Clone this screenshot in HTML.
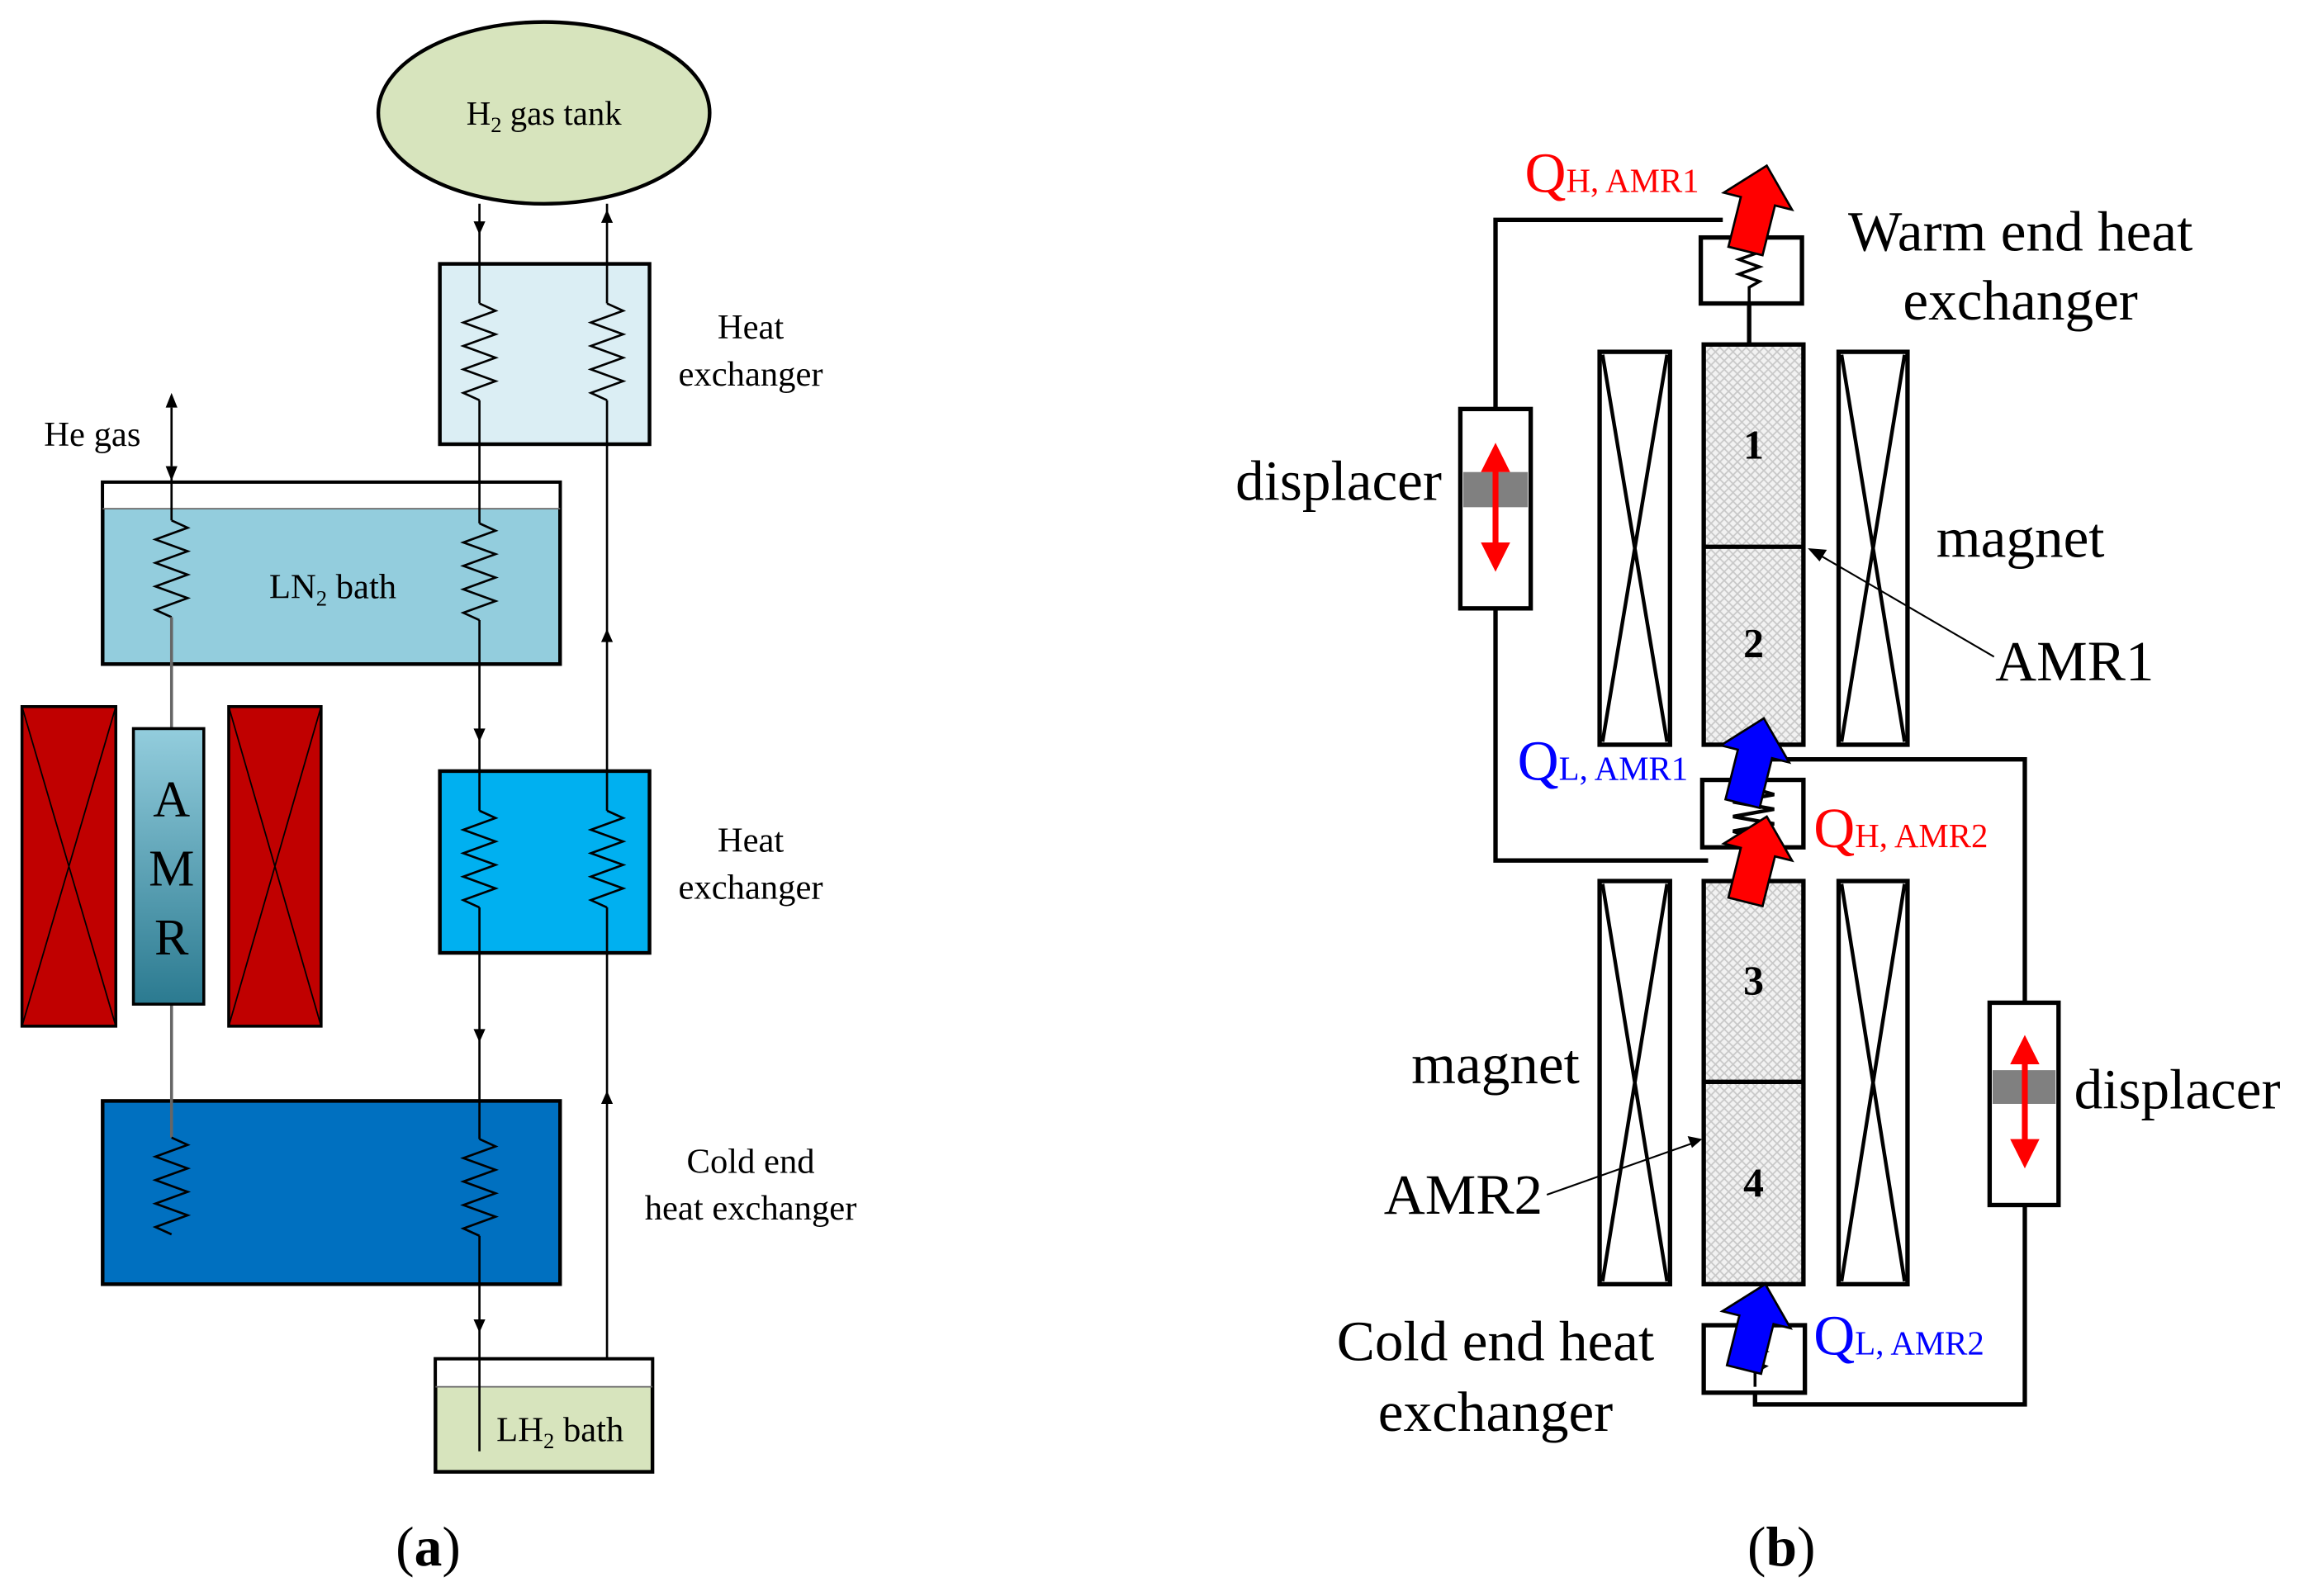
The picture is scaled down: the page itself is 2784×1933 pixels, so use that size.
<!DOCTYPE html>
<html><head><meta charset="utf-8"><style>
html,body{margin:0;padding:0;background:#fff;}
svg{display:block}
text{font-family:"Liberation Serif",serif;}
</style></head><body>
<svg width="2784" height="1933" viewBox="0 0 1568 1088.7" xmlns="http://www.w3.org/2000/svg">
<defs>
<pattern id="hatch" width="6" height="6" patternUnits="userSpaceOnUse">
<rect width="6" height="6" fill="#f2f2f2"/>
<path d="M0 0L6 6M6 0L0 6" stroke="#c8c8c8" stroke-width="1"/>
</pattern>
<linearGradient id="amr" x1="0" y1="0" x2="0" y2="1">
<stop offset="0" stop-color="#93cddd"/><stop offset="1" stop-color="#2b7a90"/>
</linearGradient>
<path id="zz" d="M0 0 l11 5 l-22 8 l22 8 l-22 8 l22 8 l-22 8 l22 8 l-22 8 l11 5" fill="none" stroke="#000" stroke-width="1.5"/>
<path id="fat" d="M0 0 L24 25 L12 25 L12 60 L-12 60 L-12 25 L-24 25 Z"/>
</defs>

<!-- ===== Panel (a) ===== -->
<ellipse cx="371" cy="77" rx="113" ry="62" fill="#d7e4bd" stroke="#000" stroke-width="2.5"/>
<text x="371" y="85" font-size="23" text-anchor="middle">H<tspan font-size="15" dy="5">2</tspan><tspan dy="-5"> gas tank</tspan></text>

<rect x="300" y="180" width="143" height="123" fill="#dbeef4" stroke="#000" stroke-width="2.5"/>
<rect x="70" y="329" width="312" height="124" fill="#93cddd" stroke="#000" stroke-width="2.5"/>
<rect x="71" y="330" width="310" height="17" fill="#fff"/>
<line x1="70" y1="347" x2="382" y2="347" stroke="#666" stroke-width="1"/>
<rect x="15" y="482" width="64" height="218" fill="#c00000" stroke="#000" stroke-width="2"/>
<path d="M15 482L79 700M79 482L15 700" stroke="#000" stroke-width="1"/>
<rect x="156" y="482" width="63" height="218" fill="#c00000" stroke="#000" stroke-width="2"/>
<path d="M156 482L219 700M219 482L156 700" stroke="#000" stroke-width="1"/>
<rect x="300" y="526" width="143" height="124" fill="#00b0f0" stroke="#000" stroke-width="2.5"/>
<rect x="70" y="751" width="312" height="125" fill="#0070c0" stroke="#000" stroke-width="2.5"/>
<rect x="297" y="927" width="148" height="77" fill="#d7e4bd" stroke="#000" stroke-width="2.5"/>
<rect x="298" y="928" width="146" height="18" fill="#fff"/>
<line x1="297" y1="946" x2="445" y2="946" stroke="#666" stroke-width="1"/>

<path d="M117 268 l-4 10 h8z M117 328 l-4 -10 h8z" fill="#000"/>
<line x1="117" y1="278" x2="117" y2="318" stroke="#000" stroke-width="1.5"/>
<line x1="117" y1="325" x2="117" y2="355" stroke="#000" stroke-width="1.5"/>
<use href="#zz" x="117" y="355"/>
<line x1="117" y1="421" x2="117" y2="497" stroke="#666" stroke-width="2"/>
<line x1="117" y1="685" x2="117" y2="776" stroke="#666" stroke-width="2"/>
<use href="#zz" x="117" y="776"/>

<rect x="91" y="497" width="48" height="188" fill="url(#amr)" stroke="#000" stroke-width="2"/>
<text x="117" y="557" font-size="35" text-anchor="middle">A</text>
<text x="117" y="604" font-size="35" text-anchor="middle">M</text>
<text x="117" y="651" font-size="35" text-anchor="middle">R</text>

<line x1="327" y1="139" x2="327" y2="207" stroke="#000" stroke-width="1.5"/>
<use href="#zz" x="327" y="207"/>
<line x1="327" y1="273" x2="327" y2="357" stroke="#000" stroke-width="1.5"/>
<use href="#zz" x="327" y="357"/>
<line x1="327" y1="423" x2="327" y2="553" stroke="#000" stroke-width="1.5"/>
<use href="#zz" x="327" y="553"/>
<line x1="327" y1="619" x2="327" y2="777" stroke="#000" stroke-width="1.5"/>
<use href="#zz" x="327" y="777"/>
<line x1="327" y1="843" x2="327" y2="990" stroke="#000" stroke-width="1.5"/>
<path d="M327 160 l-4 -9 h8z M327 506 l-4 -9 h8z M327 711 l-4 -9 h8z M327 909 l-4 -9 h8z" fill="#000"/>

<line x1="414" y1="139" x2="414" y2="207" stroke="#000" stroke-width="1.5"/>
<use href="#zz" x="414" y="207"/>
<line x1="414" y1="273" x2="414" y2="553" stroke="#000" stroke-width="1.5"/>
<use href="#zz" x="414" y="553"/>
<line x1="414" y1="619" x2="414" y2="927" stroke="#000" stroke-width="1.5"/>
<path d="M414 143 l-4 9 h8z M414 429 l-4 9 h8z M414 744 l-4 9 h8z" fill="#000"/>

<g font-size="24" text-anchor="middle">
<text x="63" y="304">He gas</text>
<text x="227" y="408">LN<tspan font-size="15" dy="5">2</tspan><tspan dy="-5"> bath</tspan></text>
<text x="382" y="983">LH<tspan font-size="15" dy="5">2</tspan><tspan dy="-5"> bath</tspan></text>
<text x="512" y="231">Heat</text>
<text x="512" y="263">exchanger</text>
<text x="512" y="581">Heat</text>
<text x="512" y="613">exchanger</text>
<text x="512" y="800">Cold end</text>
<text x="512" y="832">heat exchanger</text>
</g>
<text x="292" y="1068" font-size="38" text-anchor="middle">(<tspan font-weight="bold">a</tspan>)</text>
<text x="1215" y="1068" font-size="38" text-anchor="middle">(<tspan font-weight="bold">b</tspan>)</text>

<!-- ===== Panel (b) ===== -->
<g stroke="#000" stroke-width="3" fill="none">
<path d="M1175 150 H1020 V279"/>
<path d="M1020 415 V587 H1165"/>
<path d="M1200 518 H1381 V684"/>
<path d="M1381 822 V958 H1197 V945"/>
<line x1="1193" y1="207" x2="1193" y2="235"/>
</g>
<g stroke="#000" stroke-width="3" fill="#fff">
<rect x="1091" y="240" width="48" height="268"/>
<rect x="1254" y="240" width="47" height="268"/>
<rect x="1091" y="601" width="48" height="275"/>
<rect x="1254" y="601" width="47" height="275"/>
</g>
<g stroke="#000" stroke-width="2.5">
<path d="M1093 242L1137 506M1137 242L1093 506"/>
<path d="M1256 242L1299 506M1299 242L1256 506"/>
<path d="M1093 603L1137 874M1137 603L1093 874"/>
<path d="M1256 603L1299 874M1299 603L1256 874"/>
</g>
<rect x="1162" y="235" width="68" height="273" fill="url(#hatch)" stroke="#000" stroke-width="3"/>
<line x1="1162" y1="373" x2="1230" y2="373" stroke="#000" stroke-width="3"/>
<rect x="1162" y="601" width="68" height="275" fill="url(#hatch)" stroke="#000" stroke-width="3"/>
<line x1="1162" y1="738" x2="1230" y2="738" stroke="#000" stroke-width="3"/>
<g font-size="28" font-weight="bold" text-anchor="middle">
<text x="1196" y="313">1</text><text x="1196" y="448">2</text>
<text x="1196" y="678">3</text><text x="1196" y="816">4</text>
</g>
<g stroke="#000" stroke-width="3" fill="#fff">
<rect x="1160" y="162" width="69" height="45"/>
<rect x="1161" y="532" width="69" height="46"/>
<rect x="1162" y="904" width="69" height="46"/>
</g>
<path d="M1193 168 l7 4 l-14 5 l14 5 l-14 5 l14 5 l-7 4 v10" fill="none" stroke="#000" stroke-width="2"/>
<path d="M1196 538 l14 4 l-28 5 l28 5 l-28 5 l28 5 l-28 5 l14 4" fill="none" stroke="#000" stroke-width="2.5"/>
<path d="M1197 908 l7 4 l-14 5 l14 5 l-14 5 l14 5 l-7 4 v10" fill="none" stroke="#000" stroke-width="2"/>
<rect x="996" y="279" width="48" height="136" fill="#fff" stroke="#000" stroke-width="3"/>
<rect x="998" y="322" width="44" height="24" fill="#808080"/>
<rect x="1357" y="684" width="47" height="138" fill="#fff" stroke="#000" stroke-width="3"/>
<rect x="1359" y="730" width="43" height="23" fill="#808080"/>
<g fill="#ff0000" stroke="#ff0000" stroke-width="4">
<line x1="1020" y1="318" x2="1020" y2="376"/>
<line x1="1381" y1="722" x2="1381" y2="782"/>
</g>
<path d="M1020 302 l-10 20 h20z M1020 390 l-10 -20 h20z M1381 706 l-10 20 h20z M1381 797 l-10 -20 h20z" fill="#ff0000"/>
<use href="#fat" transform="translate(1205,113) rotate(14)" fill="#ff0000" stroke="#000" stroke-width="1.5"/>
<use href="#fat" transform="translate(1203,490) rotate(14)" fill="#0000ff" stroke="#000" stroke-width="1.5"/>
<use href="#fat" transform="translate(1205,557) rotate(14)" fill="#ff0000" stroke="#000" stroke-width="1.5"/>
<use href="#fat" transform="translate(1204,876) rotate(14)" fill="#0000ff" stroke="#000" stroke-width="1.5"/>
<line x1="1360" y1="448" x2="1240" y2="378" stroke="#000" stroke-width="1.2"/>
<path d="M1233 374 l13 1 l-5 8z" fill="#000"/>
<line x1="1055" y1="815" x2="1154" y2="780" stroke="#000" stroke-width="1.2"/>
<path d="M1161 777 l-10 -2 l3 8z" fill="#000"/>
<g font-size="39">
<text x="1040" y="131" fill="#ff0000">Q<tspan font-size="23">H, AMR1</tspan></text>
<text x="1035" y="532" fill="#0000ff">Q<tspan font-size="23">L, AMR1</tspan></text>
<text x="1237" y="578" fill="#ff0000">Q<tspan font-size="23">H, AMR2</tspan></text>
<text x="1237" y="924" fill="#0000ff">Q<tspan font-size="23">L, AMR2</tspan></text>
<text x="1378" y="171" text-anchor="middle">Warm end heat</text>
<text x="1378" y="218" text-anchor="middle">exchanger</text>
<text x="913" y="341" text-anchor="middle">displacer</text>
<text x="1378" y="380" text-anchor="middle">magnet</text>
<text x="1415" y="464" text-anchor="middle">AMR1</text>
<text x="1020" y="739" text-anchor="middle">magnet</text>
<text x="998" y="828" text-anchor="middle">AMR2</text>
<text x="1485" y="756" text-anchor="middle">displacer</text>
<text x="1020" y="928" text-anchor="middle">Cold end heat</text>
<text x="1020" y="976" text-anchor="middle">exchanger</text>
</g>
</svg>
</body></html>
